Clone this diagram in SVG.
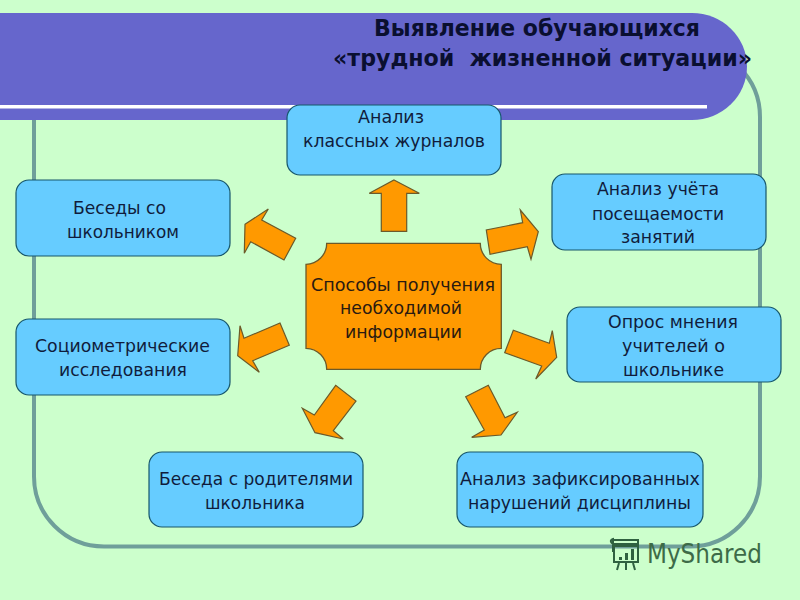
<svg xmlns="http://www.w3.org/2000/svg" width="800" height="600" viewBox="0 0 800 600">
<style>
.box{fill:#66ccff;stroke:#17566b;stroke-width:1.2}
.arr{fill:#ff9900;stroke:#6b5a2a;stroke-width:1.2;stroke-linejoin:miter}
text{font-family:"DejaVu Sans","Noto Sans",sans-serif;font-size:18px;fill:#101c3c}
.t{font-size:23.500px;font-weight:bold;fill:#0a0f30}
.c{fill:#2a1a10}
.wm{font-size:27px;fill:#3d6b48}
.ic{fill:none;stroke:#2f6140;stroke-width:2}
</style>
<rect width="800" height="600" fill="#ccffcc"/>
<rect x="34" y="47" width="726" height="499.500" rx="70" ry="70" fill="none" stroke="#6f9f9a" stroke-width="4"/>
<g id="banner">
<path d="M0 13H692A55 53.500 0 0 1 692 120H0Z" fill="#6666cc"/>
<rect x="0" y="105" width="707" height="3.500" fill="#ffffff"/>
<text class="t" x="374" y="36" textLength="326" lengthAdjust="spacingAndGlyphs">Выявление обучающихся</text>
<text class="t" x="333" y="66" textLength="419" lengthAdjust="spacingAndGlyphs" xml:space="preserve">«трудной  жизненной ситуации»</text>
</g>
<g id="connectors">
<polygon class="arr" points="394,180 419.300,193.300 406.700,193.300 406.700,231.300 381.300,231.300 381.300,193.300 369.300,193.300"/>
<polygon class="arr" points="245,224.300 268.300,209 261.700,220 295.700,238.300 284,260 250.700,241.700 244.300,253.300"/>
<polygon class="arr" points="538.300,231.700 520.300,210 522.700,222.700 486.300,230 490,254.300 527.300,246.700 531,259.300"/>
<polygon class="arr" points="237.700,355.700 240,325.700 244,338.300 280,323 289.300,345.300 252.700,360.700 259.300,372.300"/>
<polygon class="arr" points="556.700,357.300 552.300,330.700 549.300,343.300 513.300,330.300 504.700,352.700 541.700,366 535.700,379"/>
<polygon class="arr" points="315,432.700 302.300,408.300 314.300,415 335.700,385.300 356,401 333.300,430.700 343.300,439"/>
<polygon class="arr" points="501,435 517.300,412.300 505,417.700 488.300,385.300 465.700,396.700 484.300,430 471.700,437.300"/>
</g>
<g id="center">
<path d="M326.700 243.300H480.300A21 21 0 0 0 501.300 264.300V348.300A21 21 0 0 0 480.300 369.300H326.700A21 21 0 0 0 306 348.300V264.300A21 21 0 0 0 326.700 243.300Z" fill="#ff9900" stroke="#6b5a2a" stroke-width="1.300"/>
<text class="c" x="311" y="291" textLength="184" lengthAdjust="spacingAndGlyphs">Способы получения</text>
<text class="c" x="340" y="314" textLength="122" lengthAdjust="spacingAndGlyphs">необходимой</text>
<text class="c" x="345" y="338" textLength="117" lengthAdjust="spacingAndGlyphs">информации</text>
</g>
<g id="n-journals">
<rect class="box" x="287" y="105" width="214" height="70" rx="13"/>
<text x="358" y="123" textLength="66" lengthAdjust="spacingAndGlyphs">Анализ</text>
<text x="303" y="147" textLength="182" lengthAdjust="spacingAndGlyphs">классных журналов</text>
</g>
<g id="n-talks">
<rect class="box" x="16" y="180" width="214" height="76" rx="13"/>
<text x="73" y="214" textLength="93" lengthAdjust="spacingAndGlyphs">Беседы со</text>
<text x="67" y="238" textLength="112" lengthAdjust="spacingAndGlyphs">школьником</text>
</g>
<g id="n-socio">
<rect class="box" x="16" y="319" width="214" height="76" rx="13"/>
<text x="35" y="352" textLength="175" lengthAdjust="spacingAndGlyphs">Социометрические</text>
<text x="59" y="376" textLength="128" lengthAdjust="spacingAndGlyphs">исследования</text>
</g>
<g id="n-parents">
<rect class="box" x="149" y="452" width="214" height="75" rx="13"/>
<text x="159" y="485" textLength="194" lengthAdjust="spacingAndGlyphs">Беседа с родителями</text>
<text x="205" y="509" textLength="100" lengthAdjust="spacingAndGlyphs">школьника</text>
</g>
<g id="n-discipline">
<rect class="box" x="457" y="452" width="246" height="75" rx="13"/>
<text x="460" y="485" textLength="240" lengthAdjust="spacingAndGlyphs">Анализ зафиксированных</text>
<text x="468" y="509" textLength="223" lengthAdjust="spacingAndGlyphs">нарушений дисциплины</text>
</g>
<g id="n-attendance">
<rect class="box" x="552" y="174" width="214" height="76" rx="13"/>
<text x="597" y="195" textLength="122" lengthAdjust="spacingAndGlyphs">Анализ учёта</text>
<text x="592" y="220" textLength="132" lengthAdjust="spacingAndGlyphs">посещаемости</text>
<text x="621" y="243" textLength="74" lengthAdjust="spacingAndGlyphs">занятий</text>
</g>
<g id="n-teachers">
<rect class="box" x="567" y="307" width="214" height="75" rx="13"/>
<text x="608" y="328" textLength="130" lengthAdjust="spacingAndGlyphs">Опрос мнения</text>
<text x="622" y="352" textLength="103" lengthAdjust="spacingAndGlyphs">учителей о</text>
<text x="623" y="376" textLength="101" lengthAdjust="spacingAndGlyphs">школьнике</text>
</g>
<g id="watermark">
<path class="ic" d="M613 540H638V544H615C611 544 609 540 613 539V552"/>
<rect class="ic" x="614" y="546" width="24" height="16"/>
<path class="ic" d="M619 563L617 570M626 563V570M633 563L635 570"/>
<path d="M619 557h3v3h-3zM625 553h3v7h-3zM631 549h3v11h-3z" fill="#2f6140"/>
<text class="wm" x="647" y="563" textLength="115" lengthAdjust="spacingAndGlyphs">MyShared</text>
</g>
</svg>
